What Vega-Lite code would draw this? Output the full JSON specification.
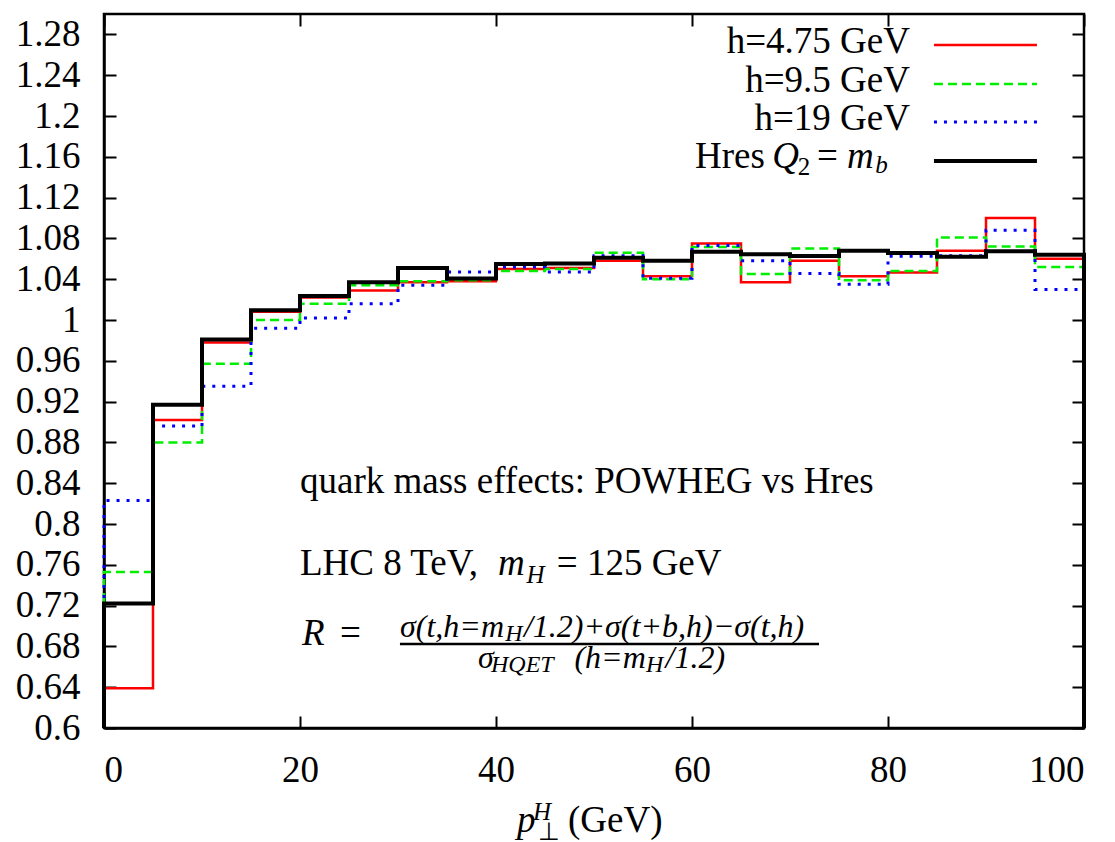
{
  "$schema": "https://vega.github.io/schema/vega-lite/v6.json",
  "width": 980,
  "height": 714,
  "autosize": {"type": "none"},
  "padding": {"left": 104, "top": 14, "right": 31, "bottom": 114},
  "background": "white",
  "config": {
    "view": {"stroke": "#000", "strokeWidth": 2.5},
    "axis": {
      "labelFont": "Liberation Serif",
      "labelFontSize": 37,
      "labelColor": "#000",
      "tickColor": "#000",
      "domainColor": "#000",
      "tickWidth": 2,
      "domainWidth": 2.5,
      "grid": false,
      "tickSize": -12,
      "title": null
    }
  },
  "datasets": {
    "red": [
      {"pt": 0, "R": 0.6}, {"pt": 0, "R": 0.639}, {"pt": 5, "R": 0.902}, {"pt": 10, "R": 0.978}, {"pt": 15, "R": 1.008},
      {"pt": 20, "R": 1.022}, {"pt": 25, "R": 1.029}, {"pt": 30, "R": 1.037}, {"pt": 35, "R": 1.038}, {"pt": 40, "R": 1.05},
      {"pt": 45, "R": 1.051}, {"pt": 50, "R": 1.058}, {"pt": 55, "R": 1.043}, {"pt": 60, "R": 1.075}, {"pt": 65, "R": 1.037},
      {"pt": 70, "R": 1.058}, {"pt": 75, "R": 1.043}, {"pt": 80, "R": 1.0465}, {"pt": 85, "R": 1.068}, {"pt": 90, "R": 1.1},
      {"pt": 95, "R": 1.06}, {"pt": 100, "R": 1.06}, {"pt": 100, "R": 0.6}
    ],
    "green": [
      {"pt": 0, "R": 0.6}, {"pt": 0, "R": 0.753}, {"pt": 5, "R": 0.88}, {"pt": 10, "R": 0.957}, {"pt": 15, "R": 1.0},
      {"pt": 20, "R": 1.016}, {"pt": 25, "R": 1.034}, {"pt": 30, "R": 1.038}, {"pt": 35, "R": 1.039}, {"pt": 40, "R": 1.048},
      {"pt": 45, "R": 1.05}, {"pt": 50, "R": 1.066}, {"pt": 55, "R": 1.04}, {"pt": 60, "R": 1.0716}, {"pt": 65, "R": 1.045},
      {"pt": 70, "R": 1.07}, {"pt": 75, "R": 1.039}, {"pt": 80, "R": 1.048}, {"pt": 85, "R": 1.081}, {"pt": 90, "R": 1.072},
      {"pt": 95, "R": 1.052}, {"pt": 100, "R": 1.052}, {"pt": 100, "R": 0.6}
    ],
    "blue": [
      {"pt": 0, "R": 0.6}, {"pt": 0, "R": 0.823}, {"pt": 5, "R": 0.896}, {"pt": 10, "R": 0.935}, {"pt": 15, "R": 0.992},
      {"pt": 20, "R": 1.002}, {"pt": 25, "R": 1.016}, {"pt": 30, "R": 1.034}, {"pt": 35, "R": 1.047}, {"pt": 40, "R": 1.052},
      {"pt": 45, "R": 1.047}, {"pt": 50, "R": 1.063}, {"pt": 55, "R": 1.041}, {"pt": 60, "R": 1.073}, {"pt": 65, "R": 1.058},
      {"pt": 70, "R": 1.0455}, {"pt": 75, "R": 1.035}, {"pt": 80, "R": 1.0625}, {"pt": 85, "R": 1.063}, {"pt": 90, "R": 1.088},
      {"pt": 95, "R": 1.03}, {"pt": 100, "R": 1.03}, {"pt": 100, "R": 0.6}
    ],
    "black": [
      {"pt": 0, "R": 0.6}, {"pt": 0, "R": 0.722}, {"pt": 5, "R": 0.917}, {"pt": 10, "R": 0.981}, {"pt": 15, "R": 1.0095},
      {"pt": 20, "R": 1.0235}, {"pt": 25, "R": 1.037}, {"pt": 30, "R": 1.051}, {"pt": 35, "R": 1.0406}, {"pt": 40, "R": 1.055},
      {"pt": 45, "R": 1.0555}, {"pt": 50, "R": 1.061}, {"pt": 55, "R": 1.058}, {"pt": 60, "R": 1.067}, {"pt": 65, "R": 1.0644},
      {"pt": 70, "R": 1.0627}, {"pt": 75, "R": 1.068}, {"pt": 80, "R": 1.0657}, {"pt": 85, "R": 1.062}, {"pt": 90, "R": 1.0674},
      {"pt": 95, "R": 1.064}, {"pt": 100, "R": 1.064}, {"pt": 100, "R": 0.6}
    ],
    "roman": [
      {"pt": 20.0, "R": 0.8304, "label": "quark mass effects: POWHEG vs Hres"},
      {"pt": 20.0, "R": 0.75, "label": "LHC 8 TeV,"},
      {"pt": 46.2, "R": 0.75, "label": "= 125 GeV"},
      {"pt": 24.08, "R": 0.6814, "label": "="},
      {"pt": 60.31, "R": 1.149, "label": "Hres"},
      {"pt": 72.76, "R": 1.149, "label": "="},
      {"pt": 47.35, "R": 0.498, "label": "(GeV)"}
    ],
    "romanRight": [
      {"pt": 82.24, "R": 1.2618, "label": "h=4.75 GeV"},
      {"pt": 82.24, "R": 1.2235, "label": "h=9.5 GeV"},
      {"pt": 82.24, "R": 1.1863, "label": "h=19 GeV"}
    ],
    "italic": [
      {"pt": 40.2, "R": 0.75, "label": "m"},
      {"pt": 20.2, "R": 0.6814, "label": "R"},
      {"pt": 68.2, "R": 1.149, "label": "Q"},
      {"pt": 75.82, "R": 1.149, "label": "m"},
      {"pt": 42.14, "R": 0.498, "label": "p"}
    ],
    "italicSub": [
      {"pt": 43.1, "R": 0.7422, "label": "H"},
      {"pt": 78.7, "R": 1.1441, "label": "b"},
      {"pt": 43.78, "R": 0.5098, "label": "H"}
    ],
    "romanSub": [
      {"pt": 70.8, "R": 1.1422, "label": "2"},
      {"pt": 44.29, "R": 0.4902, "label": "⊥"}
    ],
    "formula": [
      {"pt": 30.2, "R": 0.6892, "label": "σ(t,h=m"},
      {"pt": 42.85, "R": 0.6892, "label": "/1.2)+σ(t+b,h)−σ(t,h)"},
      {"pt": 38.16, "R": 0.6588, "label": "σ"},
      {"pt": 48.0, "R": 0.6588, "label": "(h=m"},
      {"pt": 57.3, "R": 0.6588, "label": "/1.2)"}
    ],
    "formulaSub": [
      {"pt": 40.95, "R": 0.6853, "label": "H"},
      {"pt": 39.49, "R": 0.6549, "label": "HQET"},
      {"pt": 55.3, "R": 0.6549, "label": "H"}
    ]
  },
  "layer": [
    {
      "layer": [
        {
          "data": {"name": "red"},
          "mark": {"type": "line", "interpolate": "step-after", "color": "#ff0000", "strokeWidth": 2.5},
          "encoding": {
            "x": {"field": "pt", "type": "quantitative", "scale": {"domain": [0, 100], "nice": false, "zero": false}, "axis": null},
            "y": {"field": "R", "type": "quantitative", "scale": {"domain": [0.6, 1.3], "nice": false, "zero": false}, "axis": null},
            "order": {"value": null}
          }
        },
        {
          "data": {"name": "green"},
          "mark": {"type": "line", "interpolate": "step-after", "color": "#00ee00", "strokeWidth": 2.5, "strokeDash": [9, 5]},
          "encoding": {
            "x": {"field": "pt", "type": "quantitative", "axis": null},
            "y": {"field": "R", "type": "quantitative", "axis": null},
            "order": {"value": null}
          }
        },
        {
          "data": {"name": "blue"},
          "mark": {"type": "line", "interpolate": "step-after", "color": "#0000ff", "strokeWidth": 3, "strokeDash": [3, 7]},
          "encoding": {
            "x": {"field": "pt", "type": "quantitative", "axis": null},
            "y": {"field": "R", "type": "quantitative", "axis": null},
            "order": {"value": null}
          }
        },
        {
          "data": {"name": "black"},
          "mark": {"type": "line", "interpolate": "step-after", "color": "#000000", "strokeWidth": 4},
          "encoding": {
            "x": {"field": "pt", "type": "quantitative", "axis": null},
            "y": {"field": "R", "type": "quantitative", "axis": null},
            "order": {"value": null}
          }
        },
        {
          "data": {"values": [{"pt": 84.69, "pt2": 95.2, "R": 1.2696}]},
          "mark": {"type": "rule", "color": "#ff0000", "strokeWidth": 2.5},
          "encoding": {"x": {"field": "pt", "type": "quantitative", "axis": null}, "x2": {"field": "pt2"}, "y": {"field": "R", "type": "quantitative", "axis": null}}
        },
        {
          "data": {"values": [{"pt": 84.69, "pt2": 95.2, "R": 1.2314}]},
          "mark": {"type": "rule", "color": "#00ee00", "strokeWidth": 2.5, "strokeDash": [9, 5]},
          "encoding": {"x": {"field": "pt", "type": "quantitative", "axis": null}, "x2": {"field": "pt2"}, "y": {"field": "R", "type": "quantitative", "axis": null}}
        },
        {
          "data": {"values": [{"pt": 84.69, "pt2": 95.2, "R": 1.1941}]},
          "mark": {"type": "rule", "color": "#0000ff", "strokeWidth": 3, "strokeDash": [3, 7]},
          "encoding": {"x": {"field": "pt", "type": "quantitative", "axis": null}, "x2": {"field": "pt2"}, "y": {"field": "R", "type": "quantitative", "axis": null}}
        },
        {
          "data": {"values": [{"pt": 84.69, "pt2": 95.2, "R": 1.1559}]},
          "mark": {"type": "rule", "color": "#000000", "strokeWidth": 4},
          "encoding": {"x": {"field": "pt", "type": "quantitative", "axis": null}, "x2": {"field": "pt2"}, "y": {"field": "R", "type": "quantitative", "axis": null}}
        },
        {
          "data": {"values": [{"pt": 30.2, "pt2": 72.96, "R": 0.6824}]},
          "mark": {"type": "rule", "color": "#000000", "strokeWidth": 2.5},
          "encoding": {"x": {"field": "pt", "type": "quantitative", "axis": null}, "x2": {"field": "pt2"}, "y": {"field": "R", "type": "quantitative", "axis": null}}
        },
        {
          "data": {"name": "roman"},
          "mark": {"type": "text", "align": "left", "baseline": "alphabetic", "font": "Liberation Serif", "fontSize": 37, "color": "#000"},
          "encoding": {"x": {"field": "pt", "type": "quantitative", "axis": null}, "y": {"field": "R", "type": "quantitative", "axis": null}, "text": {"field": "label"}}
        },
        {
          "data": {"name": "romanRight"},
          "mark": {"type": "text", "align": "right", "baseline": "alphabetic", "font": "Liberation Serif", "fontSize": 37, "color": "#000"},
          "encoding": {"x": {"field": "pt", "type": "quantitative", "axis": null}, "y": {"field": "R", "type": "quantitative", "axis": null}, "text": {"field": "label"}}
        },
        {
          "data": {"name": "italic"},
          "mark": {"type": "text", "align": "left", "baseline": "alphabetic", "font": "Liberation Serif", "fontSize": 37, "fontStyle": "italic", "color": "#000"},
          "encoding": {"x": {"field": "pt", "type": "quantitative", "axis": null}, "y": {"field": "R", "type": "quantitative", "axis": null}, "text": {"field": "label"}}
        },
        {
          "data": {"name": "italicSub"},
          "mark": {"type": "text", "align": "left", "baseline": "alphabetic", "font": "Liberation Serif", "fontSize": 25, "fontStyle": "italic", "color": "#000"},
          "encoding": {"x": {"field": "pt", "type": "quantitative", "axis": null}, "y": {"field": "R", "type": "quantitative", "axis": null}, "text": {"field": "label"}}
        },
        {
          "data": {"name": "romanSub"},
          "mark": {"type": "text", "align": "left", "baseline": "alphabetic", "font": "Liberation Serif", "fontSize": 25, "color": "#000"},
          "encoding": {"x": {"field": "pt", "type": "quantitative", "axis": null}, "y": {"field": "R", "type": "quantitative", "axis": null}, "text": {"field": "label"}}
        },
        {
          "data": {"name": "formula"},
          "mark": {"type": "text", "align": "left", "baseline": "alphabetic", "font": "Liberation Serif", "fontSize": 32, "fontStyle": "italic", "color": "#000"},
          "encoding": {"x": {"field": "pt", "type": "quantitative", "axis": null}, "y": {"field": "R", "type": "quantitative", "axis": null}, "text": {"field": "label"}}
        },
        {
          "data": {"name": "formulaSub"},
          "mark": {"type": "text", "align": "left", "baseline": "alphabetic", "font": "Liberation Serif", "fontSize": 24, "fontStyle": "italic", "color": "#000"},
          "encoding": {"x": {"field": "pt", "type": "quantitative", "axis": null}, "y": {"field": "R", "type": "quantitative", "axis": null}, "text": {"field": "label"}}
        }
      ]
    },
    {
      "data": {"name": "black"},
      "mark": {"type": "point", "opacity": 0},
      "encoding": {
        "x": {"field": "pt", "type": "quantitative",
              "axis": {"orient": "bottom", "values": [0, 20, 40, 60, 80, 100], "format": "d", "labelPadding": 36}},
        "y": {"field": "R", "type": "quantitative",
              "axis": {"orient": "left", "values": [0.6, 0.64, 0.68, 0.72, 0.76, 0.8, 0.84, 0.88, 0.92, 0.96, 1, 1.04, 1.08, 1.12, 1.16, 1.2, 1.24, 1.28], "format": "~g", "labelPadding": 36}}
      }
    },
    {
      "data": {"name": "black"},
      "mark": {"type": "point", "opacity": 0},
      "encoding": {
        "x": {"field": "pt", "type": "quantitative", "axis": {"orient": "top", "values": [0, 20, 40, 60, 80, 100], "labels": false, "domain": false}},
        "y": {"field": "R", "type": "quantitative", "axis": {"orient": "right", "values": [0.6, 0.64, 0.68, 0.72, 0.76, 0.8, 0.84, 0.88, 0.92, 0.96, 1, 1.04, 1.08, 1.12, 1.16, 1.2, 1.24, 1.28], "labels": false, "domain": false}}
      }
    }
  ],
  "resolve": {"axis": {"x": "independent", "y": "independent"}}
}
